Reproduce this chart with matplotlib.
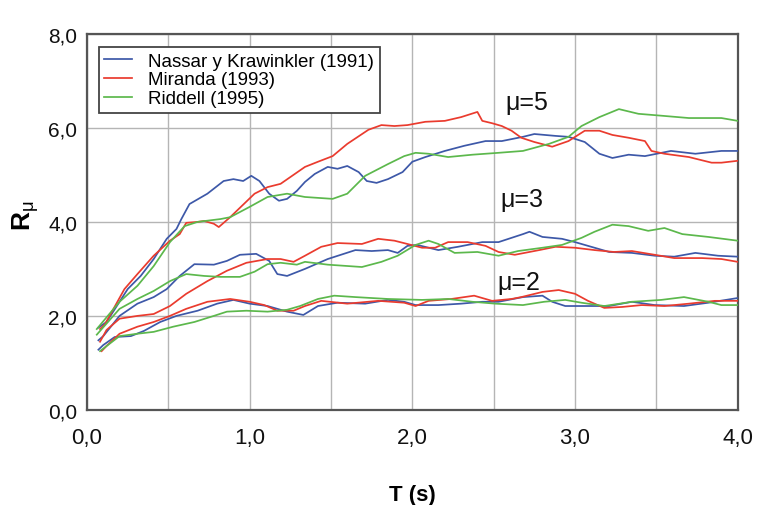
import numpy as np
import matplotlib
matplotlib.use('Agg')
import matplotlib.pyplot as plt
from matplotlib import font_manager
from matplotlib.ticker import MultipleLocator, FuncFormatter

plt.rcParams['font.family'] = ['Liberation Sans', 'DejaVu Sans']
plt.rcParams['mathtext.fontset'] = 'custom'
plt.rcParams['mathtext.rm'] = 'Liberation Sans'
plt.rcParams['mathtext.bf'] = 'Liberation Sans:bold'
plt.rcParams['mathtext.it'] = 'Liberation Sans'

# x tick labels in the original look condensed
installed = {f.name for f in font_manager.fontManager.ttflist}
narrow = 'Liberation Sans Narrow' if 'Liberation Sans Narrow' in installed else 'Liberation Sans'

# Nassar y Krawinkler (1991)
nk5_t = [0.07, 0.12, 0.25, 0.33, 0.41, 0.49, 0.55, 0.58, 0.63, 0.74, 0.84, 0.90, 0.96, 1.01, 1.06, 1.12, 1.18, 1.23, 1.29, 1.34, 1.40, 1.48, 1.54, 1.60, 1.67, 1.72, 1.78, 1.85, 1.94, 2.00, 2.08, 2.20, 2.32, 2.45, 2.55, 2.68, 2.75, 2.88, 2.96, 3.06, 3.15, 3.23, 3.33, 3.43, 3.59, 3.74, 3.90, 4.00]
nk5_r = [1.75, 1.87, 2.57, 2.85, 3.21, 3.64, 3.85, 4.06, 4.38, 4.60, 4.87, 4.91, 4.87, 4.98, 4.87, 4.60, 4.45, 4.49, 4.66, 4.85, 5.02, 5.17, 5.13, 5.19, 5.06, 4.87, 4.83, 4.91, 5.06, 5.28, 5.38, 5.51, 5.62, 5.72, 5.72, 5.81, 5.87, 5.83, 5.81, 5.70, 5.45, 5.36, 5.43, 5.40, 5.51, 5.45, 5.51, 5.51]
nk3_t = [0.07, 0.10, 0.20, 0.31, 0.41, 0.49, 0.57, 0.66, 0.78, 0.86, 0.94, 1.04, 1.12, 1.17, 1.23, 1.34, 1.48, 1.65, 1.75, 1.85, 1.91, 1.97, 2.03, 2.16, 2.28, 2.43, 2.53, 2.68, 2.72, 2.80, 2.92, 3.00, 3.10, 3.21, 3.35, 3.49, 3.61, 3.74, 3.88, 4.00]
nk3_r = [1.48, 1.57, 2.00, 2.26, 2.40, 2.57, 2.85, 3.10, 3.09, 3.17, 3.30, 3.32, 3.17, 2.89, 2.85, 3.00, 3.21, 3.40, 3.38, 3.40, 3.34, 3.49, 3.51, 3.40, 3.47, 3.57, 3.57, 3.74, 3.79, 3.68, 3.64, 3.57, 3.47, 3.36, 3.34, 3.28, 3.26, 3.34, 3.28, 3.26]
nk2_t = [0.07, 0.10, 0.17, 0.27, 0.35, 0.45, 0.55, 0.68, 0.80, 0.90, 1.00, 1.11, 1.23, 1.33, 1.42, 1.54, 1.71, 1.85, 1.95, 2.02, 2.16, 2.30, 2.43, 2.53, 2.68, 2.80, 2.86, 2.94, 3.08, 3.21, 3.35, 3.49, 3.67, 3.82, 4.00]
nk2_r = [1.28, 1.38, 1.55, 1.57, 1.68, 1.87, 2.00, 2.11, 2.26, 2.34, 2.26, 2.21, 2.09, 2.02, 2.21, 2.28, 2.26, 2.34, 2.30, 2.23, 2.23, 2.26, 2.30, 2.30, 2.40, 2.43, 2.30, 2.21, 2.21, 2.21, 2.30, 2.23, 2.21, 2.28, 2.38]

# Miranda (1993)
mi5_t = [0.08, 0.11, 0.23, 0.31, 0.41, 0.51, 0.57, 0.61, 0.68, 0.72, 0.78, 0.81, 0.88, 1.03, 1.11, 1.19, 1.34, 1.42, 1.51, 1.60, 1.73, 1.81, 1.89, 1.97, 2.08, 2.20, 2.30, 2.40, 2.43, 2.49, 2.55, 2.61, 2.67, 2.75, 2.86, 2.96, 3.06, 3.15, 3.23, 3.33, 3.43, 3.47, 3.55, 3.70, 3.84, 3.90, 4.00]
mi5_r = [1.72, 1.82, 2.57, 2.89, 3.28, 3.60, 3.74, 3.98, 4.00, 4.02, 3.96, 3.89, 4.10, 4.60, 4.74, 4.81, 5.17, 5.28, 5.40, 5.66, 5.96, 6.06, 6.04, 6.06, 6.13, 6.15, 6.23, 6.34, 6.15, 6.10, 6.04, 5.94, 5.79, 5.70, 5.60, 5.72, 5.94, 5.94, 5.85, 5.79, 5.72, 5.51, 5.45, 5.38, 5.26, 5.26, 5.30]
mi3_t = [0.08, 0.12, 0.20, 0.31, 0.41, 0.51, 0.61, 0.74, 0.86, 0.98, 1.11, 1.19, 1.27, 1.34, 1.44, 1.54, 1.69, 1.79, 1.89, 1.97, 2.06, 2.14, 2.22, 2.34, 2.45, 2.53, 2.63, 2.78, 2.88, 3.00, 3.12, 3.24, 3.35, 3.49, 3.61, 3.78, 3.90, 4.00]
mi3_r = [1.45, 1.70, 1.94, 2.00, 2.04, 2.21, 2.47, 2.74, 2.96, 3.13, 3.21, 3.21, 3.15, 3.28, 3.47, 3.55, 3.53, 3.64, 3.60, 3.53, 3.45, 3.45, 3.57, 3.57, 3.49, 3.36, 3.30, 3.40, 3.47, 3.45, 3.40, 3.36, 3.38, 3.30, 3.23, 3.23, 3.21, 3.15]
mi2_t = [0.09, 0.12, 0.20, 0.31, 0.41, 0.51, 0.61, 0.74, 0.88, 1.00, 1.09, 1.17, 1.27, 1.34, 1.44, 1.60, 1.79, 1.95, 2.02, 2.10, 2.24, 2.38, 2.49, 2.61, 2.67, 2.80, 2.90, 3.00, 3.08, 3.18, 3.29, 3.41, 3.55, 3.70, 3.86, 4.00]
mi2_r = [1.25, 1.36, 1.62, 1.77, 1.87, 2.00, 2.15, 2.30, 2.36, 2.30, 2.23, 2.11, 2.11, 2.21, 2.32, 2.26, 2.32, 2.28, 2.21, 2.32, 2.36, 2.43, 2.32, 2.36, 2.40, 2.51, 2.55, 2.47, 2.32, 2.17, 2.19, 2.23, 2.21, 2.26, 2.32, 2.32]

# Riddell (1995)
ri5_t = [0.06, 0.20, 0.31, 0.41, 0.51, 0.60, 0.68, 0.82, 0.88, 1.00, 1.11, 1.23, 1.34, 1.51, 1.60, 1.71, 1.85, 1.95, 2.02, 2.10, 2.22, 2.37, 2.53, 2.68, 2.84, 2.96, 3.04, 3.15, 3.27, 3.39, 3.53, 3.70, 3.90, 4.00]
ri5_r = [1.72, 2.30, 2.64, 3.06, 3.57, 3.91, 4.00, 4.06, 4.10, 4.32, 4.53, 4.60, 4.53, 4.49, 4.60, 4.98, 5.23, 5.40, 5.47, 5.45, 5.38, 5.43, 5.47, 5.51, 5.66, 5.81, 6.04, 6.23, 6.40, 6.30, 6.26, 6.21, 6.21, 6.15]
ri3_t = [0.06, 0.20, 0.31, 0.41, 0.51, 0.61, 0.72, 0.82, 0.94, 1.03, 1.11, 1.19, 1.29, 1.34, 1.48, 1.69, 1.81, 1.91, 2.02, 2.10, 2.16, 2.26, 2.40, 2.53, 2.65, 2.80, 2.92, 3.04, 3.12, 3.23, 3.33, 3.45, 3.55, 3.66, 3.82, 4.00]
ri3_r = [1.60, 2.15, 2.36, 2.53, 2.74, 2.89, 2.85, 2.83, 2.83, 2.94, 3.10, 3.13, 3.09, 3.15, 3.09, 3.04, 3.15, 3.28, 3.51, 3.60, 3.53, 3.34, 3.36, 3.28, 3.38, 3.45, 3.51, 3.66, 3.79, 3.94, 3.91, 3.81, 3.87, 3.74, 3.68, 3.60]
ri2_t = [0.08, 0.20, 0.31, 0.41, 0.53, 0.66, 0.78, 0.86, 0.98, 1.11, 1.23, 1.31, 1.42, 1.52, 1.65, 1.85, 2.06, 2.22, 2.37, 2.51, 2.68, 2.81, 2.94, 3.04, 3.18, 3.35, 3.53, 3.67, 3.82, 3.90, 4.00]
ri2_r = [1.25, 1.57, 1.62, 1.66, 1.77, 1.87, 2.00, 2.09, 2.11, 2.09, 2.13, 2.21, 2.36, 2.43, 2.40, 2.36, 2.34, 2.36, 2.30, 2.26, 2.23, 2.30, 2.34, 2.28, 2.21, 2.30, 2.34, 2.40, 2.30, 2.23, 2.23]

labels = ['Nassar y Krawinkler (1991)', 'Miranda (1993)', 'Riddell (1995)']
colors = ['#3d58a8', '#ea3b2e', '#5cb84c']
mu_text = ['\u03bc=5', '\u03bc=3', '\u03bc=2']
mu_pos = [(2.57, 6.55), (2.54, 4.49), (2.52, 2.72)]

fig = plt.figure(figsize=(7.7, 5.06), dpi=100)
ax = fig.add_axes([0.113, 0.188, 0.845, 0.743])

series = [
    [(nk5_t, nk5_r), (nk3_t, nk3_r), (nk2_t, nk2_r)],
    [(mi5_t, mi5_r), (mi3_t, mi3_r), (mi2_t, mi2_r)],
    [(ri5_t, ri5_r), (ri3_t, ri3_r), (ri2_t, ri2_r)],
]
for lab, col, curves in zip(labels, colors, series):
    for i, (t, r) in enumerate(curves):
        ax.plot(t, r, color=col, lw=1.25, solid_joinstyle='round',
                label=lab if i == 0 else None, zorder=3)

for txt, (x, y) in zip(mu_text, mu_pos):
    ax.text(x, y, txt, fontsize=18, va='center', ha='left', color='#111111')

ax.set_xlim(0, 4)
ax.set_ylim(0, 8)
ax.xaxis.set_major_locator(MultipleLocator(1))
ax.xaxis.set_minor_locator(MultipleLocator(0.5))
ax.yaxis.set_major_locator(MultipleLocator(2))
fmt = FuncFormatter(lambda v, p: f'{v:.1f}'.replace('.', ','))
ax.xaxis.set_major_formatter(fmt)
ax.yaxis.set_major_formatter(fmt)
ax.grid(True, which='both', axis='x', color='#b5b5b5', lw=1.0)
ax.grid(True, which='major', axis='y', color='#b5b5b5', lw=1.0)
ax.tick_params(which='both', length=0, colors='#111111')
ax.tick_params(axis='x', pad=12, labelsize=16)
ax.tick_params(axis='y', pad=7, labelsize=15)
for lbl in ax.get_xticklabels():
    lbl.set_fontfamily(narrow)
for s in ax.spines.values():
    s.set_color('#555555')
    s.set_linewidth(1.6)

ax.set_xlabel('T (s)', fontsize=16, fontweight='bold', labelpad=26, fontfamily=narrow)
ax.set_ylabel('$\\mathbf{R}_{\\mu}$', fontsize=19)
ax.yaxis.set_label_coords(-0.07, 0.52)

leg = ax.legend(loc='upper left', bbox_to_anchor=(0.018, 0.965),
                frameon=True, fancybox=False, handlelength=1.45, labelspacing=0.08,
                borderpad=0.3, handletextpad=0.9, borderaxespad=0,
                prop={'family': 'Liberation Sans', 'size': 13.5})
leg.get_frame().set_edgecolor('#444444')
leg.get_frame().set_linewidth(1.3)
leg.get_frame().set_alpha(1)

fig.savefig('out.png', dpi=100)
